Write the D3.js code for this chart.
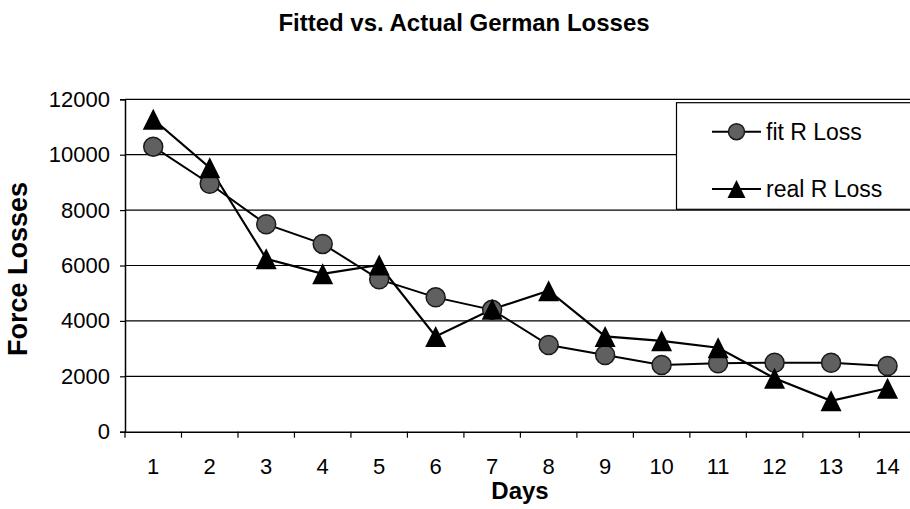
<!DOCTYPE html>
<html>
<head>
<meta charset="utf-8">
<script src="https://cdn.jsdelivr.net/npm/d3@7"></script>
<style>
  html, body { margin: 0; padding: 0; background: #fff; }
  svg { display: block; font-family: "Liberation Sans", Arial, sans-serif; }
</style>
</head>
<body>
<svg id="chart" width="910" height="509"></svg>
<script>
const days = ["1","2","3","4","5","6","7","8","9","10","11","12","13","14"];
const fitLoss  = [10290, 8950, 7490, 6780, 5500, 4850, 4400, 3130, 2770, 2410, 2470, 2490, 2490, 2370];
const realLoss = [11280, 9530, 6245, 5700, 6020, 3440, 4420, 5090, 3440, 3280, 3030, 1930, 1115, 1570];
const yTicks = [0, 2000, 4000, 6000, 8000, 10000, 12000];
const seriesNames = ["fit R Loss", "real R Loss"];

(function () {
const svg = d3.select("#chart");
const pLeft = 125, pRight = 915.8, pTop = 99.3, pBottom = 431.7;

const x = d3.scaleBand().domain(days).range([pLeft, pRight]).padding(0);
const y = d3.scaleLinear().domain([0, 12000]).range([pBottom, pTop]);

// title
svg.append("text").attr("x", 464).attr("y", 31).attr("text-anchor", "middle")
  .attr("font-size", 24).attr("font-weight", "bold").text("Fitted vs. Actual German Losses");

// gridlines
svg.append("g").selectAll("line").data(yTicks.filter(d => d > 0)).join("line")
  .attr("x1", pLeft).attr("x2", pRight)
  .attr("y1", d => y(d)).attr("y2", d => y(d))
  .attr("stroke", "#000").attr("stroke-width", 1.2);

// y axis
const yAxis = d3.axisLeft(y).tickValues(yTicks).tickSize(5).tickPadding(10).tickFormat(d3.format("d"));
const gy = svg.append("g").attr("transform", `translate(${pLeft},0)`).call(yAxis);
gy.select(".domain").attr("stroke-width", 1.5);
gy.selectAll(".tick line").attr("stroke-width", 1.2);
gy.selectAll("text").attr("font-size", 22).attr("font-family", "Liberation Sans, Arial, sans-serif").attr("fill", "#000");

// x axis
const xAxis = d3.axisBottom(x).tickSize(0).tickPadding(27);
const gx = svg.append("g").attr("transform", `translate(0,${pBottom})`).call(xAxis);
gx.select(".domain").attr("stroke-width", 1.5);
gx.selectAll("text").attr("font-size", 22).attr("font-family", "Liberation Sans, Arial, sans-serif").attr("fill", "#000");
// category boundary ticks
const bounds = days.map(d => x(d)).concat([pRight]);
svg.append("g").selectAll("line").data(bounds).join("line")
  .attr("x1", d => d).attr("x2", d => d).attr("y1", pBottom).attr("y2", pBottom + 6)
  .attr("stroke", "#000").attr("stroke-width", 1.2);

// axis titles
svg.append("text").attr("transform", "translate(27,269) rotate(-90)")
  .attr("text-anchor", "middle").attr("font-size", 27).attr("font-weight", "bold").text("Force Losses");
svg.append("text").attr("x", 520).attr("y", 499).attr("text-anchor", "middle")
  .attr("font-size", 24).attr("font-weight", "bold").text("Days");

const cx = d => x(d) + x.bandwidth() / 2;
const line = d3.line().x((d, i) => cx(days[i])).y(d => y(d));

const triPath = (s) => `M0,${-s/2}L${s/2},${s/2}L${-s/2},${s/2}Z`;

// lines
svg.append("path").datum(fitLoss).attr("d", line).attr("fill", "none")
  .attr("stroke", "#000").attr("stroke-width", 2);
svg.append("path").datum(realLoss).attr("d", line).attr("fill", "none")
  .attr("stroke", "#000").attr("stroke-width", 2.2);

// fit markers
svg.append("g").selectAll("circle").data(fitLoss).join("circle")
  .attr("cx", (d, i) => cx(days[i])).attr("cy", d => y(d)).attr("r", 9.5)
  .attr("fill", "#606060").attr("stroke", "#1a1a1a").attr("stroke-width", 1.5);

// real markers
svg.append("g").selectAll("path").data(realLoss).join("path")
  .attr("transform", (d, i) => `translate(${cx(days[i])},${y(d)})`)
  .attr("d", triPath(21)).attr("fill", "#000");

// legend
const lg = svg.append("g");
lg.append("rect").attr("x", 676.5).attr("y", 102.7).attr("width", 260).attr("height", 106.6)
  .attr("fill", "#fff").attr("stroke", "#000").attr("stroke-width", 1.2);
const legY = [131.7, 189];
seriesNames.forEach((name, i) => {
  lg.append("line").attr("x1", 712).attr("x2", 761).attr("y1", legY[i]).attr("y2", legY[i])
    .attr("stroke", "#000").attr("stroke-width", 2);
  if (i === 0) {
    lg.append("circle").attr("cx", 736.5).attr("cy", legY[i]).attr("r", 8)
      .attr("fill", "#606060").attr("stroke", "#1a1a1a").attr("stroke-width", 1.5);
  } else {
    lg.append("path").attr("transform", `translate(736.5,${legY[i]})`).attr("d", triPath(18)).attr("fill", "#000");
  }
  lg.append("text").attr("x", 766).attr("y", legY[i] + 8).attr("font-size", 23).text(name);
});
})();
</script>
</body>
</html>
